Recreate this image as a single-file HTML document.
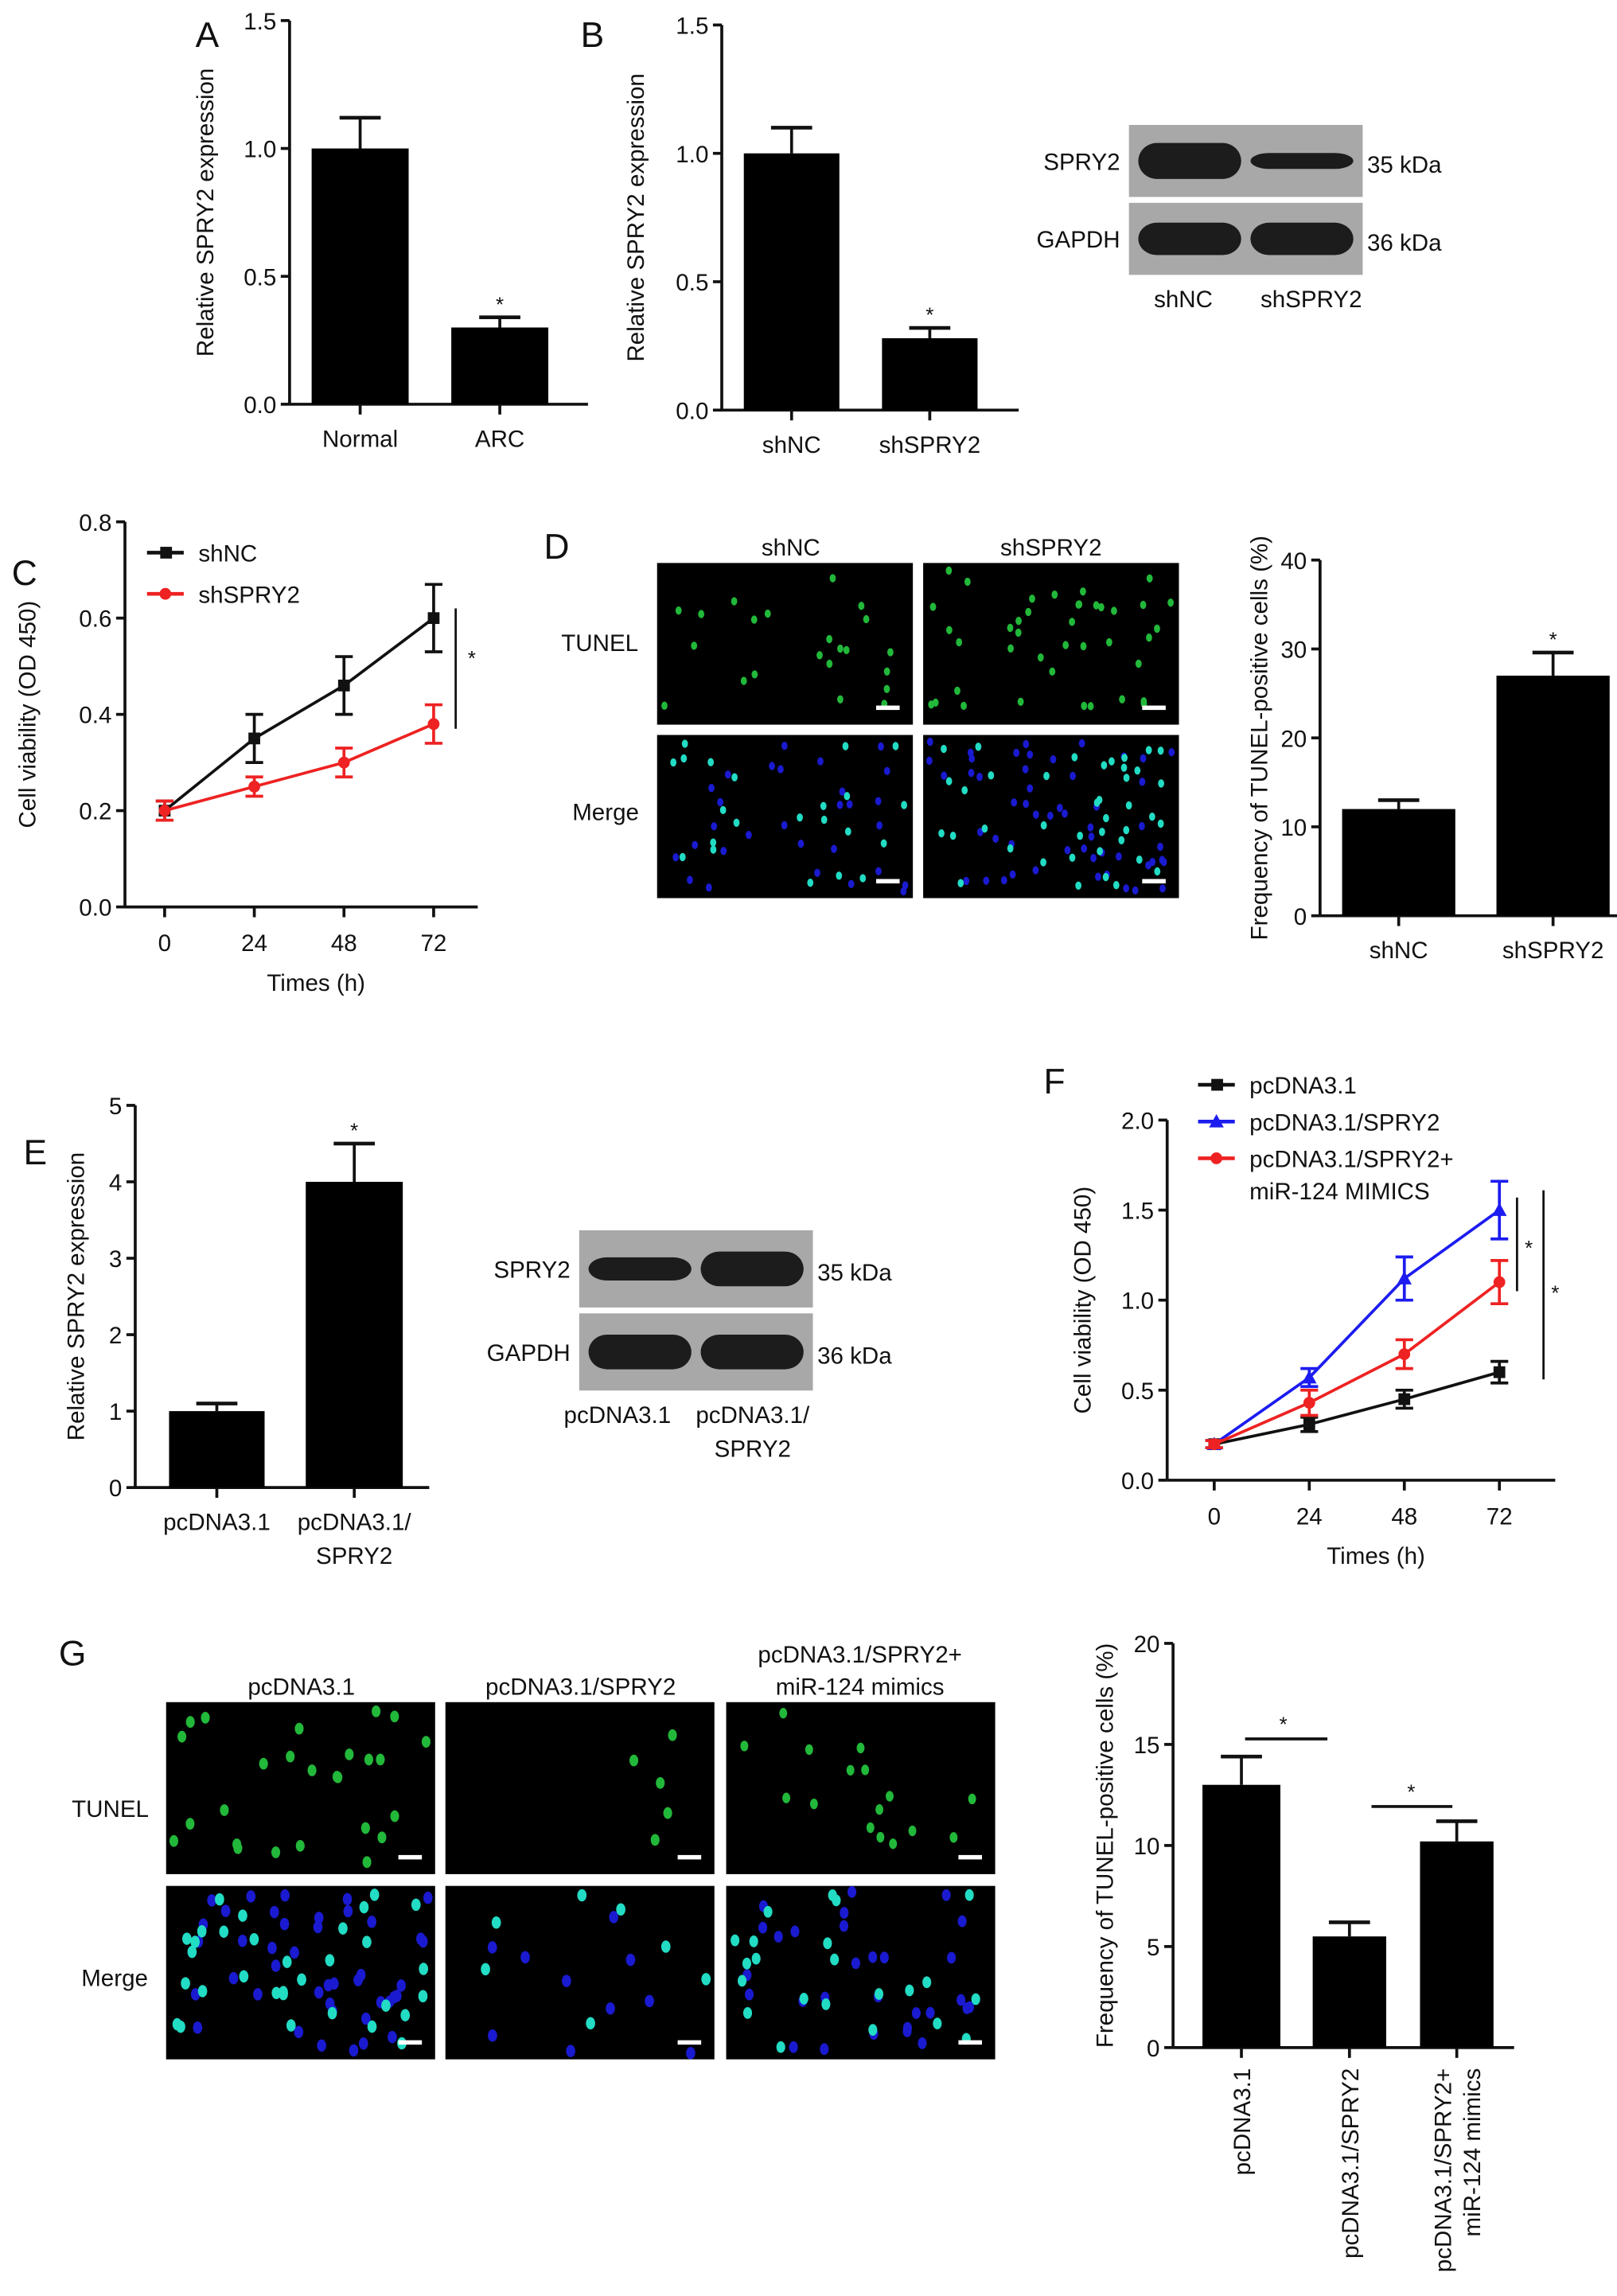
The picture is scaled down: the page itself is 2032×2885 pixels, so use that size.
<!DOCTYPE html>
<html><head><meta charset="utf-8"><style>
html,body{margin:0;padding:0;background:#fff}
svg{display:block}
text{font-family:"Liberation Sans",Arial,sans-serif;fill:#111}
</style></head><body>
<svg id="fig" width="2032" height="2885" viewBox="0 0 1100 1562" preserveAspectRatio="none" xmlns="http://www.w3.org/2000/svg"></svg>
<script>
// ---- data ----
const aCats=["Normal","ARC"], aVals=[1.0,0.30], aErr=[0.12,0.04], aTicks=["0.0","0.5","1.0","1.5"];
const bCats=["shNC","shSPRY2"], bVals=[1.0,0.28], bErr=[0.10,0.04], bTicks=["0.0","0.5","1.0","1.5"];
const cTimes=[0,24,48,72], cTickLabels=["0","24","48","72"], cYTicks=["0.0","0.2","0.4","0.6","0.8"];
const cShNC=[0.20,0.35,0.46,0.60], cShNCErr=[0.02,0.05,0.06,0.07];
const cShSPRY2=[0.20,0.25,0.30,0.38], cShSPRY2Err=[0.02,0.02,0.03,0.04];
const dCats=["shNC","shSPRY2"], dVals=[12,27], dErr=[1,2.6], dTicks=["0","10","20","30","40"];
const eCats=[["pcDNA3.1"],["pcDNA3.1/","SPRY2"]], eVals=[1.0,4.0], eErr=[0.1,0.5], eTicks=["0","1","2","3","4","5"];
const fTimes=[0,24,48,72], fTickLabels=["0","24","48","72"], fYTicks=["0.0","0.5","1.0","1.5","2.0"];
const fPc=[0.20,0.31,0.45,0.60], fPcErr=[0.02,0.04,0.05,0.06];
const fSp=[0.20,0.57,1.12,1.50], fSpErr=[0.02,0.05,0.12,0.16];
const fMi=[0.20,0.43,0.70,1.10], fMiErr=[0.02,0.07,0.08,0.12];
const gCats=["pcDNA3.1","pcDNA3.1/SPRY2","pcDNA3.1/SPRY2+|miR-124 mimics"], gVals=[13,5.5,10.2], gErr=[1.4,0.7,1.0], gTicks=["0","5","10","15","20"];

const svg=document.getElementById('fig');
const NS="http://www.w3.org/2000/svg";
function el(tag,attrs,parent,txt){const e=document.createElementNS(NS,tag);for(const k in attrs)e.setAttribute(k,attrs[k]);if(txt!==undefined)e.textContent=txt;(parent||svg).appendChild(e);return e;}
function grp(name){const g=el('g',{});return g;}
function txt(g,x,y,s,size,anchor,name,rot){const t=el('text',{x:x,y:y,'font-size':size,'text-anchor':anchor||'middle'},g,s);if(rot)t.setAttribute('transform','rotate('+rot+' '+x+' '+y+')');return t;}

function yAxis(g,x,yTop,yBot,ticks,max,title,titleX,fs){
  el('line',{x1:x,y1:yTop,x2:x,y2:yBot,stroke:'#111','stroke-width':2},g);
  ticks.forEach((t,i)=>{const v=parseFloat(t);const y=yBot-(v/max)*(yBot-yTop);
    el('line',{x1:x-6,y1:y,x2:x,y2:y,stroke:'#111','stroke-width':2},g);
    txt(g,x-9,y+6,t,fs||16,'end','y-tick-label');});
  txt(g,titleX,(yTop+yBot)/2,title,16,'middle','y-axis-title',-90);
}
function barChart(name,cfg){
  const g=grp(name);
  const sy=v=>cfg.yBot-(v/cfg.max)*(cfg.yBot-cfg.yTop);
  yAxis(g,cfg.x,cfg.yTop,cfg.yBot,cfg.ticks,cfg.max,cfg.title,cfg.titleX);
  el('line',{x1:cfg.x,y1:cfg.yBot,x2:cfg.xEnd,y2:cfg.yBot,stroke:'#111','stroke-width':2},g);
  cfg.vals.forEach((v,i)=>{const [x1,x2]=cfg.bars[i];const cx=(x1+x2)/2;
    const top=sy(v+cfg.err[i]);
    el('line',{x1:cx,y1:sy(v),x2:cx,y2:top,stroke:'#111','stroke-width':2},g);
    el('line',{x1:cx-14,y1:top,x2:cx+14,y2:top,stroke:'#111','stroke-width':2.5},g);
    const r=el('rect',{x:x1,y:sy(v),width:x2-x1,height:cfg.yBot-sy(v),fill:'#000'},g);
    
    
    el('line',{x1:cx,y1:cfg.yBot,x2:cx,y2:cfg.yBot+7,stroke:'#111','stroke-width':2},g);
    if(cfg.stars&&cfg.stars[i])txt(g,cx,top-4,'*',14,'middle','significance-star');
    const lab=cfg.cats[i];
    if(cfg.rot){const parts=lab.split('|');parts.forEach((p,j)=>txt(g,cx+6-(parts.length-1)*10+j*20,cfg.yBot+14,p,16,'end','x-tick-label',-90));}
    else{const parts=Array.isArray(lab)?lab:[lab];parts.forEach((p,j)=>txt(g,cx,cfg.yBot+29+j*23,p,16,'middle','x-tick-label'));}
  });
  return {g,sy};
}
function lineChart(name,cfg){
  const g=grp(name);
  const sy=v=>cfg.yBot-(v/cfg.max)*(cfg.yBot-cfg.yTop);
  const sx=t=>cfg.x0+(t/72)*(cfg.x72-cfg.x0);
  yAxis(g,cfg.x,cfg.yTop,cfg.yBot,cfg.yTicks,cfg.max,cfg.title,cfg.titleX);
  el('line',{x1:cfg.x,y1:cfg.yBot,x2:cfg.xEnd,y2:cfg.yBot,stroke:'#111','stroke-width':2},g);
  cfg.times.forEach((t,i)=>{el('line',{x1:sx(t),y1:cfg.yBot,x2:sx(t),y2:cfg.yBot+7,stroke:'#111','stroke-width':2},g);
    txt(g,sx(t),cfg.yBot+30,cfg.tickLabels[i],16,'middle','x-tick-label');});
  txt(g,(cfg.x+cfg.xEnd)/2+10,cfg.yBot+57,'Times (h)',16,'middle','x-axis-title');
  cfg.series.forEach(s=>{
    const sg=el('g',{},g);
    const pts=s.vals.map((v,i)=>sx(cfg.times[i])+','+sy(v)).join(' ');
    const pl=el('polyline',{points:pts,fill:'none',stroke:s.color,'stroke-width':2},sg);
    
    s.vals.forEach((v,i)=>{const x=sx(cfg.times[i]);const e=s.err[i];
      el('line',{x1:x,y1:sy(v-e),x2:x,y2:sy(v+e),stroke:s.color,'stroke-width':2},sg);
      el('line',{x1:x-6,y1:sy(v-e),x2:x+6,y2:sy(v-e),stroke:s.color,'stroke-width':2},sg);
      el('line',{x1:x-6,y1:sy(v+e),x2:x+6,y2:sy(v+e),stroke:s.color,'stroke-width':2},sg);
      let m;
      if(s.marker==='sq')m=el('rect',{x:x-4,y:sy(v)-4,width:8,height:8,fill:s.color},sg);
      else if(s.marker==='tri')m=el('polygon',{points:(x)+','+(sy(v)-5)+' '+(x-5)+','+(sy(v)+4)+' '+(x+5)+','+(sy(v)+4),fill:s.color},sg);
      else m=el('circle',{cx:x,cy:sy(v),r:4,fill:s.color},sg);
      
    });
  });
  return {g,sy,sx};
}
function legendEntry(g,x,y,color,marker,label){
  const lg=el('g',{},g);
  el('line',{x1:x,y1:y,x2:x+25,y2:y,stroke:color,'stroke-width':2.5},lg);
  if(marker==='sq')el('rect',{x:x+9,y:y-4,width:8,height:8,fill:color},lg);
  else if(marker==='tri')el('polygon',{points:(x+12.5)+','+(y-5)+' '+(x+7.5)+','+(y+4)+' '+(x+17.5)+','+(y+4),fill:color},lg);
  else el('circle',{cx:x+12.5,cy:y,r:4,fill:color},lg);
  txt(lg,x+35,y+6,label,16,'start','legend-label');
}
function panelLetter(x,y,s){txt(svg,x,y,s,24,'start','panel-label-'+s.toLowerCase());}

// seeded decorative nuclei
let seed=7;function rnd(){seed=(seed*16807)%2147483647;return seed/2147483647;}
function micro(name,x,y,w,h,n,merge,scale){
  const g=grp(name);
  el('rect',{x:x,y:y,width:w,height:h,fill:'#000'},g);
  const s=scale||1;
  if(merge){for(let i=0;i<n*1.3;i++)el('ellipse',{cx:x+4+rnd()*(w-8),cy:y+4+rnd()*(h-8),rx:3*s,ry:4*s,fill:'#1a1ad0'},g);}
  for(let i=0;i<n;i++){const cx=x+5+rnd()*(w-10),cy=y+5+rnd()*(h-10);
    el('ellipse',{cx:cx,cy:cy,rx:3*s,ry:4*s,fill:merge?'#22dcc4':'#22b83a'},g);}
  el('rect',{x:x+w-25,y:y+h-13,width:16,height:3,fill:'#fff'},g);
}
function blot(name,x,y,w,h,bands,labels,kda,lanes,laneX){
  const g=grp(name);
  const half=(h-4)/2;
  [0,1].forEach(r=>{const yy=y+r*(half+4);
    el('rect',{x:x,y:yy,width:w,height:half,fill:'#a8a8a8'},g);
    bands[r].forEach((b,i)=>{const cx=x+w*(i===0?0.26:0.74);const bh=half*b;
      el('rect',{x:cx-w*0.22,y:yy+half/2-bh/2,width:w*0.44,height:bh,rx:w*0.08,ry:bh/2,fill:'#1c1c1c'},g);});
    txt(g,x-6,yy+half/2+6,labels[r],16,'end','blot-row-label');
    txt(g,x+w+3,yy+half/2+8,kda[r],16,'start','blot-kda-label');
  });
  lanes.forEach((l,i)=>{l.forEach((p,j)=>txt(g,laneX[i],y+h+22+j*23,p,16,'middle','blot-lane-label'));});
}

// ---- Panel A ----
panelLetter(133,32,'A');
barChart('panel-a-bar-chart',{x:197,yTop:14,yBot:275,xEnd:400,max:1.5,ticks:aTicks,vals:aVals,err:aErr,cats:aCats,bars:[[212,278],[307,373]],stars:[0,1],title:'Relative SPRY2 expression',titleX:145});
// ---- Panel B ----
panelLetter(395,32,'B');
barChart('panel-b-bar-chart',{x:491,yTop:17,yBot:279,xEnd:693,max:1.5,ticks:bTicks,vals:bVals,err:bErr,cats:bCats,bars:[[506,571],[600,665]],stars:[0,1],title:'Relative SPRY2 expression',titleX:438});
blot('panel-b-western-blot',768,85,159,102,[[0.5,0.22],[0.45,0.45]],['SPRY2','GAPDH'],['35 kDa','36 kDa'],[['shNC'],['shSPRY2']],[805,892]);
// ---- Panel C ----
panelLetter(8,398,'C');
const C=lineChart('panel-c-line-chart',{x:85,yTop:355,yBot:617,xEnd:325,x0:112,x72:295,max:0.8,yTicks:cYTicks,times:cTimes,tickLabels:cTickLabels,title:'Cell viability (OD 450)',titleX:24,
  series:[{key:'shnc',vals:cShNC,err:cShNCErr,color:'#111',marker:'sq'},{key:'shspry2',vals:cShSPRY2,err:cShSPRY2Err,color:'#ee2222',marker:'circ'}]});
el('line',{x1:310,y1:C.sy(0.62),x2:310,y2:C.sy(0.37),stroke:'#111','stroke-width':1.5},C.g);
txt(C.g,321,C.sy(0.52)+6,'*',14,'middle','significance-star');
legendEntry(C.g,100,376,'#111','sq','shNC');
legendEntry(C.g,100,404,'#ee2222','circ','shSPRY2');
// ---- Panel D ----
panelLetter(370,380,'D');
const Dg=grp('panel-d-tunel-images');
txt(Dg,538,378,'shNC',16,'middle','column-label');txt(Dg,715,378,'shSPRY2',16,'middle','column-label');
txt(Dg,408,443,'TUNEL',16,'middle','row-label');txt(Dg,412,558,'Merge',16,'middle','row-label');
micro('tunel-shnc',447,383,174,110,22,false,0.7);micro('tunel-shspry2',628,383,174,110,40,false,0.7);
micro('merge-shnc',447,500,174,111,22,true,0.7);micro('merge-shspry2',628,500,174,111,40,true,0.7);
barChart('panel-d-bar-chart',{x:898,yTop:381,yBot:623,xEnd:1100,max:40,ticks:dTicks,vals:dVals,err:dErr,cats:dCats,bars:[[913,990],[1018,1095]],stars:[0,1],title:'Frequency of TUNEL-positive cells (%)',titleX:862});
// ---- Panel E ----
panelLetter(16,792,'E');
barChart('panel-e-bar-chart',{x:92,yTop:752,yBot:1012,xEnd:292,max:5,ticks:eTicks,vals:eVals,err:eErr,cats:eCats,bars:[[115,180],[208,274]],stars:[0,1],title:'Relative SPRY2 expression',titleX:57});
blot('panel-e-western-blot',394,837,159,109,[[0.3,0.45],[0.45,0.45]],['SPRY2','GAPDH'],['35 kDa','36 kDa'],[['pcDNA3.1'],['pcDNA3.1/','SPRY2']],[420,512]);
// ---- Panel F ----
panelLetter(710,744,'F');
const F=lineChart('panel-f-line-chart',{x:794,yTop:762,yBot:1007,xEnd:1058,x0:826,x72:1020,max:2,yTicks:fYTicks,times:fTimes,tickLabels:fTickLabels,title:'Cell viability (OD 450)',titleX:742,
  series:[{key:'pcdna',vals:fPc,err:fPcErr,color:'#111',marker:'sq'},{key:'spry2',vals:fSp,err:fSpErr,color:'#1c1cf0',marker:'tri'},{key:'mimics',vals:fMi,err:fMiErr,color:'#ee2222',marker:'circ'}]});
el('line',{x1:1032,y1:F.sy(1.57),x2:1032,y2:F.sy(1.05),stroke:'#111','stroke-width':1.5},F.g);
txt(F.g,1040,F.sy(1.3)+6,'*',14,'middle','significance-star');
el('line',{x1:1050,y1:F.sy(1.61),x2:1050,y2:F.sy(0.56),stroke:'#111','stroke-width':1.5},F.g);
txt(F.g,1058,F.sy(1.05)+6,'*',14,'middle','significance-star');
legendEntry(F.g,815,738,'#111','sq','pcDNA3.1');
legendEntry(F.g,815,763,'#1c1cf0','tri','pcDNA3.1/SPRY2');
legendEntry(F.g,815,788,'#ee2222','circ','pcDNA3.1/SPRY2+');
txt(F.g,850,816,'miR-124 MIMICS',16,'start','legend-label');
// ---- Panel G ----
panelLetter(40,1133,'G');
const Gg=grp('panel-g-tunel-images');
txt(Gg,205,1153,'pcDNA3.1',16,'middle','column-label');txt(Gg,395,1153,'pcDNA3.1/SPRY2',16,'middle','column-label');
txt(Gg,585,1131,'pcDNA3.1/SPRY2+',16,'middle','column-label');txt(Gg,585,1153,'miR-124 mimics',16,'middle','column-label');
txt(Gg,75,1236,'TUNEL',16,'middle','row-label');txt(Gg,78,1351,'Merge',16,'middle','row-label');
micro('tunel-pcdna',113,1158,183,117,26,false,1.0);micro('tunel-spry2',303,1158,183,117,5,false,1.0);micro('tunel-mimics',494,1158,183,117,16,false,0.9);
micro('merge-pcdna',113,1283,183,118,32,true,1.05);micro('merge-spry2',303,1283,183,118,7,true,1.05);micro('merge-mimics',494,1283,183,118,22,true,1.0);
const G=barChart('panel-g-bar-chart',{x:798,yTop:1118,yBot:1393,xEnd:1030,max:20,ticks:gTicks,vals:gVals,err:gErr,cats:gCats,bars:[[818,871],[893,943],[966,1016]],rot:true,title:'Frequency of TUNEL-positive cells (%)',titleX:757});
el('line',{x1:847,y1:1183,x2:903,y2:1183,stroke:'#111','stroke-width':2},G.g);
txt(G.g,873,1178,'*',14,'middle','significance-star');
el('line',{x1:933,y1:1229,x2:988,y2:1229,stroke:'#111','stroke-width':2},G.g);
txt(G.g,960,1224,'*',14,'middle','significance-star');
</script>
</body></html>
